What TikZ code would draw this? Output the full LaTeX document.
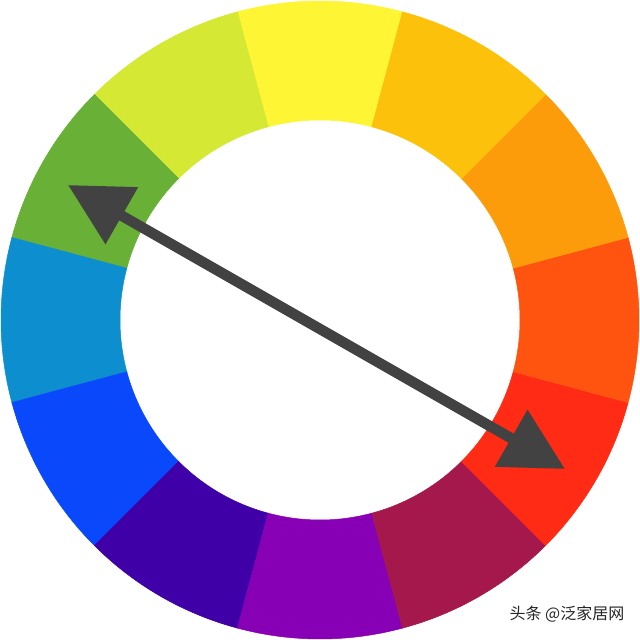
\documentclass[tikz,border=0pt]{standalone}
\usepackage{fontspec}
\newfontfamily\cjk{Noto Sans CJK SC}
\usetikzlibrary{arrows.meta}
\definecolor{cY}{HTML}{FEF635}
\definecolor{cYG}{HTML}{D5E834}
\definecolor{cG}{HTML}{68B036}
\definecolor{cBG}{HTML}{0D8ECF}
\definecolor{cB}{HTML}{0948FB}
\definecolor{cBV}{HTML}{3F00A8}
\definecolor{cV}{HTML}{8800B5}
\definecolor{cRV}{HTML}{A5184B}
\definecolor{cR}{HTML}{FF2B14}
\definecolor{cRO}{HTML}{FE5410}
\definecolor{cO}{HTML}{FD9C0A}
\definecolor{cYO}{HTML}{FCC10A}
\definecolor{arrowgrey}{HTML}{434243}
\tikzset{
  bigarrow/.style={line width=10.5pt, draw=arrowgrey, fill=arrowgrey,
    {Triangle[length=62pt,width=63pt]}-{Triangle[length=62pt,width=63pt]}},
  watermark/.style={font=\cjk\fontsize{16}{17}\selectfont, text=black!85, inner sep=0pt}
}
\begin{document}
\begin{tikzpicture}[x=1pt,y=1pt]
\fill[white] (0,0) rectangle (640,640);
\useasboundingbox (0,0) rectangle (640,640);
\coordinate (C) at (320,320);
\begin{scope}[shift={(C)}]
\foreach \a/\c in {90/cY,120/cYG,150/cG,180/cBG,210/cB,240/cBV,270/cV,300/cRV,330/cR,0/cRO,30/cO,60/cYO}{
  \filldraw[fill=\c, draw=\c, line width=0.5pt]
    (\a-15:319) arc[start angle=\a-15, end angle=\a+15, radius=319]
    -- (\a+15:200) arc[start angle=\a+15, end angle=\a-15, radius=200] -- cycle;
}
\end{scope}
\coordinate (A) at (68,455);
\coordinate (B) at (565,171);
\draw[bigarrow] (A) -- (B);
\node[watermark] (wm) at (567,26) {头条 @泛家居网};
\end{tikzpicture}
\end{document}
